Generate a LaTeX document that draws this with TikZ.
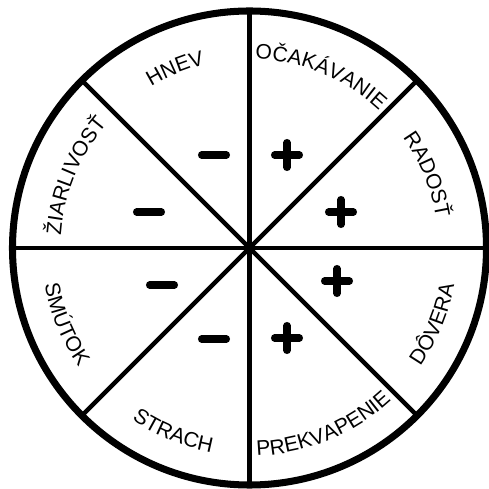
\documentclass[tikz,border=0pt]{standalone}
\usepackage{fontspec}
\setmainfont{Liberation Sans}
\usepackage{tikz}
\usetikzlibrary{decorations.text}
\newcommand\wheelfont{\fontsize{12}{14}\selectfont}
\tikzset{
  rim/.style={draw=black, line width=4pt},
  spoke/.style={draw=black, line width=2.6pt},
  sign/.style={draw=black, line width=4pt, line cap=round},
  toplabel/.style={decorate, decoration={text along path, text align=center,
    text={|\wheelfont|#1}}},
  bottomlabel/.style={decorate, decoration={text along path, text align=center,
    text={|\wheelfont|#1}}}
}

\begin{document}
\begin{tikzpicture}[x=0.02cm, y=0.02cm]
\useasboundingbox (-249.5,-241) rectangle (239.5,248);

% sector borders and rim
\foreach \a in {0,45,90,135}
  \draw[spoke] (\a:237) -- ({\a+180}:237);
\draw[rim] (0,0) circle [radius=237];

% labels, upper half (read clockwise)
\foreach \a/\w in {112.5/HNEV, 67.5/OČAKÁVANIE, 22.5/RADOSŤ, 157.5/ŽIARLIVOSŤ}
  \path[toplabel=\w] ({\a+30}:189) arc[start angle=\a+30, end angle=\a-30, radius=189];

% labels, lower half (read counter-clockwise)
\foreach \a/\w in {-22.5/DÔVERA, -67.5/PREKVAPENIE, -112.5/STRACH, -157.5/SMÚTOK}
  \path[bottomlabel=\w] ({\a-30}:208) arc[start angle=\a-30, end angle=\a+30, radius=208];

% minus signs
\foreach \x/\y in {-35.5/93, -100.5/36, -87.5/-37, -35.5/-91}
  \draw[sign] (\x-12.5,\y) -- (\x+12.5,\y);

% plus signs
\foreach \x/\y in {37.5/93, 91.5/36, 87.5/-33, 37.5/-90} {
  \draw[sign] (\x-12.5,\y) -- (\x+12.5,\y);
  \draw[sign] (\x,\y-12.5) -- (\x,\y+12.5);
}
\end{tikzpicture}
\end{document}
